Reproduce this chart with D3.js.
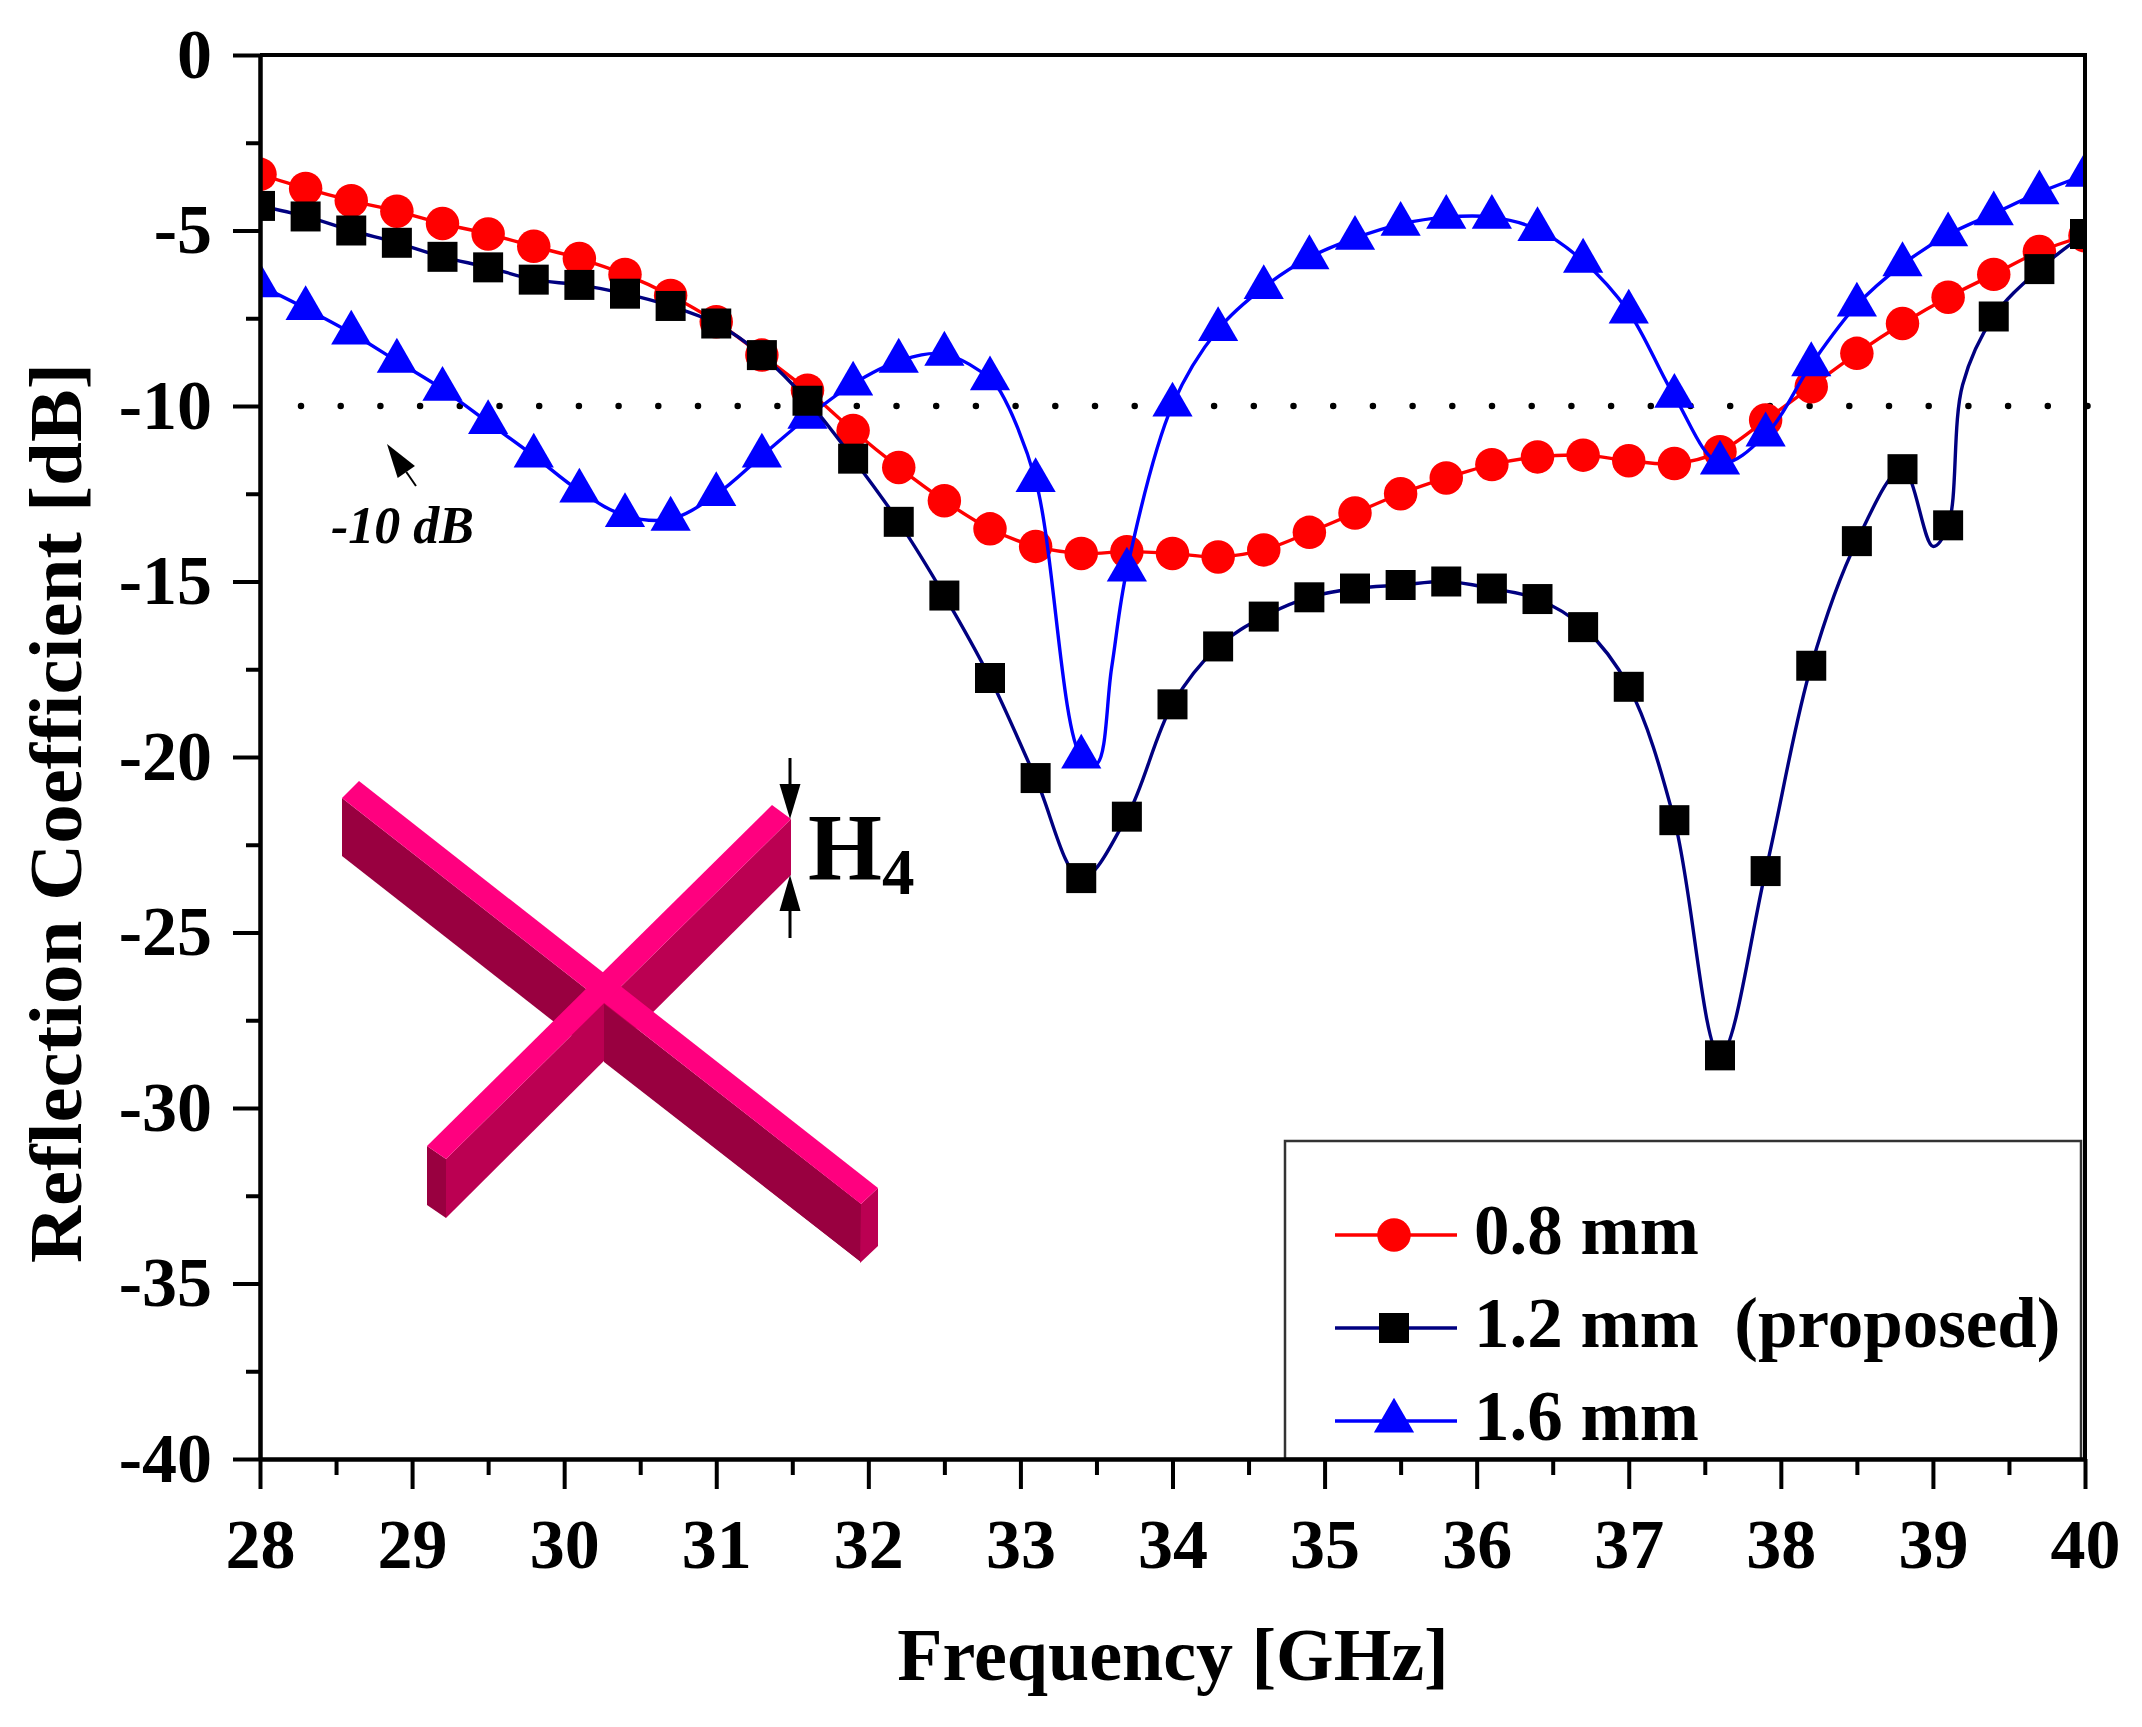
<!DOCTYPE html>
<html>
<head>
<meta charset="utf-8">
<title>Reflection Coefficient</title>
<script src="https://cdn.jsdelivr.net/npm/d3@7"></script>
<style>
  html, body { margin: 0; padding: 0; background: #fff; }
  svg { display: block; }
  text { font-family: "Liberation Serif", serif; font-weight: bold; fill: #000; }
</style>
</head>
<body>
<div id="chart"></div>
<script>
// Frequency points that carry a marker [GHz]
const freq = [28, 28.3, 28.6, 28.9, 29.2, 29.5, 29.8, 30.1, 30.4, 30.7, 31, 31.3, 31.6, 31.9,
  32.2, 32.5, 32.8, 33.1, 33.4, 33.7, 34, 34.3, 34.6, 34.9, 35.2, 35.5, 35.8, 36.1, 36.4, 36.7,
  37, 37.3, 37.6, 37.9, 38.2, 38.5, 38.8, 39.1, 39.4, 39.7, 40];

// Reflection coefficient [dB]
const s08 = [-3.4, -3.8, -4.15, -4.45, -4.8, -5.1, -5.45, -5.8, -6.25, -6.85, -7.6, -8.55, -9.55, -10.7,
  -11.75, -12.7, -13.5, -14, -14.2, -14.15, -14.2, -14.3, -14.1, -13.6, -13.05, -12.5, -12.05, -11.67, -11.45, -11.4,
  -11.56, -11.64, -11.3, -10.4, -9.45, -8.5, -7.65, -6.9, -6.25, -5.6, -5.15];
const s12 = [-4.3, -4.6, -5, -5.35, -5.75, -6.05, -6.4, -6.55, -6.8, -7.15, -7.65, -8.55, -9.85, -11.5,
  -13.3, -15.4, -17.75, -20.6, -23.45, -21.7, -18.5, -16.85, -16, -15.45, -15.2, -15.1, -15, -15.2, -15.5, -16.3,
  -18, -21.8, -28.5, -23.25, -17.4, -13.85, -11.8, -13.4, -7.45, -6.1, -5.1];
const s16 = [-6.57, -7.22, -7.92, -8.72, -9.52, -10.47, -11.42, -12.42, -13.12, -13.22, -12.52, -11.42, -10.32, -9.37,
  -8.72, -8.52, -9.22, -12.12, -20, -14.67, -9.97, -7.82, -6.62, -5.77, -5.22, -4.82, -4.62, -4.62, -4.97, -5.87,
  -7.32, -9.72, -11.62, -10.82, -8.82, -7.12, -5.97, -5.12, -4.52, -3.92, -3.42];

// Places where the trace bends between two markers
const bends08 = [];
const bends12 = [[39, -14], [39.195, -9.4]];
const bends16 = [[32.87, -9.6], [33.5, -20.2], [33.6, -17.45]];

const xMajor = [28, 29, 30, 31, 32, 33, 34, 35, 36, 37, 38, 39, 40];
const xMinor = [28.5, 29.5, 30.5, 31.5, 32.5, 33.5, 34.5, 35.5, 36.5, 37.5, 38.5, 39.5];
const yMajor = [0, -5, -10, -15, -20, -25, -30, -35, -40];
const yMinor = [-2.5, -7.5, -12.5, -17.5, -22.5, -27.5, -32.5, -37.5];
const threshold = -10;

const seriesList = [
  { name: "0.8 mm", values: s08, bends: bends08, color: "#ff0000", symbol: d3.symbolCircle, size: 880 },
  { name: "1.6 mm", values: s16, bends: bends16, color: "#0000ff", symbol: d3.symbolTriangle, size: 700 },
  { name: "1.2 mm  (proposed)", values: s12, bends: bends12, color: "#000080", symbol: d3.symbolSquare, size: 900, markerColor: "#000" }
];
const legendOrder = [seriesList[0], seriesList[2], seriesList[1]];

const width = 2142, height = 1727;
const plotLeft = 260, plotRight = 2085, plotTop = 55, plotBottom = 1459;

const svg = d3.select("#chart").append("svg")
  .attr("width", width)
  .attr("height", height)
  .attr("viewBox", [0, 0, width, height]);

const x = d3.scaleLinear().domain([28, 40]).range([plotLeft, plotRight]);
const y = d3.scaleLinear().domain([0, -40]).range([plotTop, plotBottom]);

svg.append("defs").append("clipPath").attr("id", "plot")
  .append("rect")
  .attr("x", plotLeft).attr("y", plotTop)
  .attr("width", plotRight - plotLeft).attr("height", plotBottom - plotTop);

// Dotted -10 dB level
svg.append("line")
  .attr("x1", 301).attr("x2", 2088)
  .attr("y1", y(threshold)).attr("y2", y(threshold))
  .attr("stroke", "#000")
  .attr("stroke-width", 6.5)
  .attr("stroke-linecap", "round")
  .attr("stroke-dasharray", "0 39.7");

// Traces and markers
const line = d3.line().x(d => x(d[0])).y(d => y(d[1])).curve(d3.curveCatmullRom.alpha(0.5));
const plot = svg.append("g").attr("clip-path", "url(#plot)");

seriesList.forEach(s => {
  const points = freq.map((f, i) => [f, s.values[i]]);
  const traced = points.concat(s.bends).sort((a, b) => a[0] - b[0]);

  plot.append("path")
    .attr("d", line(traced))
    .attr("fill", "none")
    .attr("stroke", s.color)
    .attr("stroke-width", 3.4);

  plot.selectAll(null)
    .data(points)
    .join("path")
    .attr("d", d3.symbol().type(s.symbol).size(s.size))
    .attr("transform", d => `translate(${x(d[0])},${y(d[1])})`)
    .attr("fill", s.markerColor || s.color);
});

// Inset: the cross, drawn face by face in paint order
const crossTop = "#ff007f", crossMid = "#bb0052", crossDark = "#990040";
const crossFaces = [
  { fill: crossDark, pts: [[342, 798], [342, 856], [861, 1262], [861, 1204]] },
  { fill: crossMid, pts: [[446, 1159], [791, 819], [791, 875], [446, 1218]] },
  { fill: crossDark, pts: [[427, 1146], [446, 1159], [446, 1218], [427, 1205]] },
  { fill: crossDark, pts: [[604, 1004], [861, 1204], [861, 1262], [604, 1062]] },
  { fill: crossMid, pts: [[861, 1204], [878, 1188], [878, 1246], [860, 1263]] },
  { fill: crossTop, pts: [[342, 798], [359, 781], [878, 1188], [861, 1204]] },
  { fill: crossTop, pts: [[427, 1146], [772, 805], [791, 819], [446, 1159]] }
];
svg.append("g").selectAll("polygon")
  .data(crossFaces)
  .join("polygon")
  .attr("points", d => d.pts.join(" "))
  .attr("fill", d => d.fill);

// Small arrows and their labels
function arrow(x1, y1, x2, y2, headLen, headHalf, lw) {
  const a = Math.atan2(y2 - y1, x2 - x1);
  const bx = x2 - headLen * Math.cos(a), by = y2 - headLen * Math.sin(a);
  const nx = -Math.sin(a) * headHalf, ny = Math.cos(a) * headHalf;
  svg.append("line")
    .attr("x1", x1).attr("y1", y1).attr("x2", bx).attr("y2", by)
    .attr("stroke", "#000").attr("stroke-width", lw);
  svg.append("polygon")
    .attr("points", [[x2, y2], [bx + nx, by + ny], [bx - nx, by - ny]].join(" "))
    .attr("fill", "#000");
}
arrow(790, 758, 790, 819, 35, 10.5, 3);
arrow(790, 938, 790, 875, 36, 10.5, 3);
arrow(416, 486, 387, 444, 34, 10.5, 2);

const h4 = svg.append("text").attr("x", 808).attr("y", 880).attr("font-size", 95).text("H");
h4.append("tspan").attr("font-size", 65).attr("dy", 14).text("4");

svg.append("text")
  .attr("x", 331).attr("y", 543)
  .attr("font-size", 52)
  .attr("font-style", "italic")
  .text("-10 dB");

// Legend
const legend = svg.append("g");
legend.append("rect")
  .attr("x", 1285).attr("y", 1141)
  .attr("width", 796).attr("height", plotBottom - 1141)
  .attr("fill", "#fff")
  .attr("stroke", "#333")
  .attr("stroke-width", 2.5);

const legendY = d3.scalePoint().domain(legendOrder.map(s => s.name)).range([1235, 1421]);
legendOrder.forEach(s => {
  const ly = legendY(s.name);
  legend.append("line")
    .attr("x1", 1335).attr("x2", 1457)
    .attr("y1", ly).attr("y2", ly)
    .attr("stroke", s.color)
    .attr("stroke-width", 3.4);
  legend.append("path")
    .attr("d", d3.symbol().type(s.symbol).size(s.size))
    .attr("transform", `translate(1394,${ly})`)
    .attr("fill", s.markerColor || s.color);
  legend.append("text")
    .attr("x", 1474).attr("y", ly + 19)
    .attr("font-size", 71)
    .style("white-space", "pre")
    .text(s.name);
});

// Frame
svg.append("path")
  .attr("d", `M${plotLeft},${plotTop}H${plotRight}V${plotBottom}`)
  .attr("fill", "none")
  .attr("stroke", "#000")
  .attr("stroke-width", 4);

// Axes: major ticks with labels, shorter minor ticks without
function styleAxis(g) {
  g.selectAll(".domain, line").attr("stroke", "#000").attr("stroke-width", 4);
  g.selectAll("text").attr("fill", "#000").attr("font-size", 70)
    .attr("font-family", '"Liberation Serif", serif');
}

svg.append("g")
  .attr("transform", `translate(0,${plotBottom})`)
  .call(d3.axisBottom(x).tickValues(xMajor).tickFormat(d3.format("d")).tickSize(30).tickSizeOuter(0).tickPadding(29))
  .call(styleAxis);
svg.append("g")
  .attr("transform", `translate(0,${plotBottom})`)
  .call(d3.axisBottom(x).tickValues(xMinor).tickFormat("").tickSize(16).tickSizeOuter(0))
  .call(styleAxis);

svg.append("g")
  .attr("transform", `translate(${plotLeft},0)`)
  .call(d3.axisLeft(y).tickValues(yMajor).tickFormat(d => d === 0 ? "0" : "-" + Math.abs(d)).tickSize(27).tickSizeOuter(0).tickPadding(21))
  .call(styleAxis);
svg.append("g")
  .attr("transform", `translate(${plotLeft},0)`)
  .call(d3.axisLeft(y).tickValues(yMinor).tickFormat("").tickSize(14).tickSizeOuter(0))
  .call(styleAxis);

// Axis titles
svg.append("text")
  .attr("x", 1173).attr("y", 1680)
  .attr("text-anchor", "middle")
  .attr("font-size", 74)
  .text("Frequency [GHz]");

svg.append("text")
  .attr("transform", "translate(81,813) rotate(-90)")
  .attr("text-anchor", "middle")
  .attr("font-size", 74)
  .attr("textLength", 900)
  .attr("lengthAdjust", "spacingAndGlyphs")
  .text("Reflection Coefficient [dB]");
</script>
</body>
</html>
